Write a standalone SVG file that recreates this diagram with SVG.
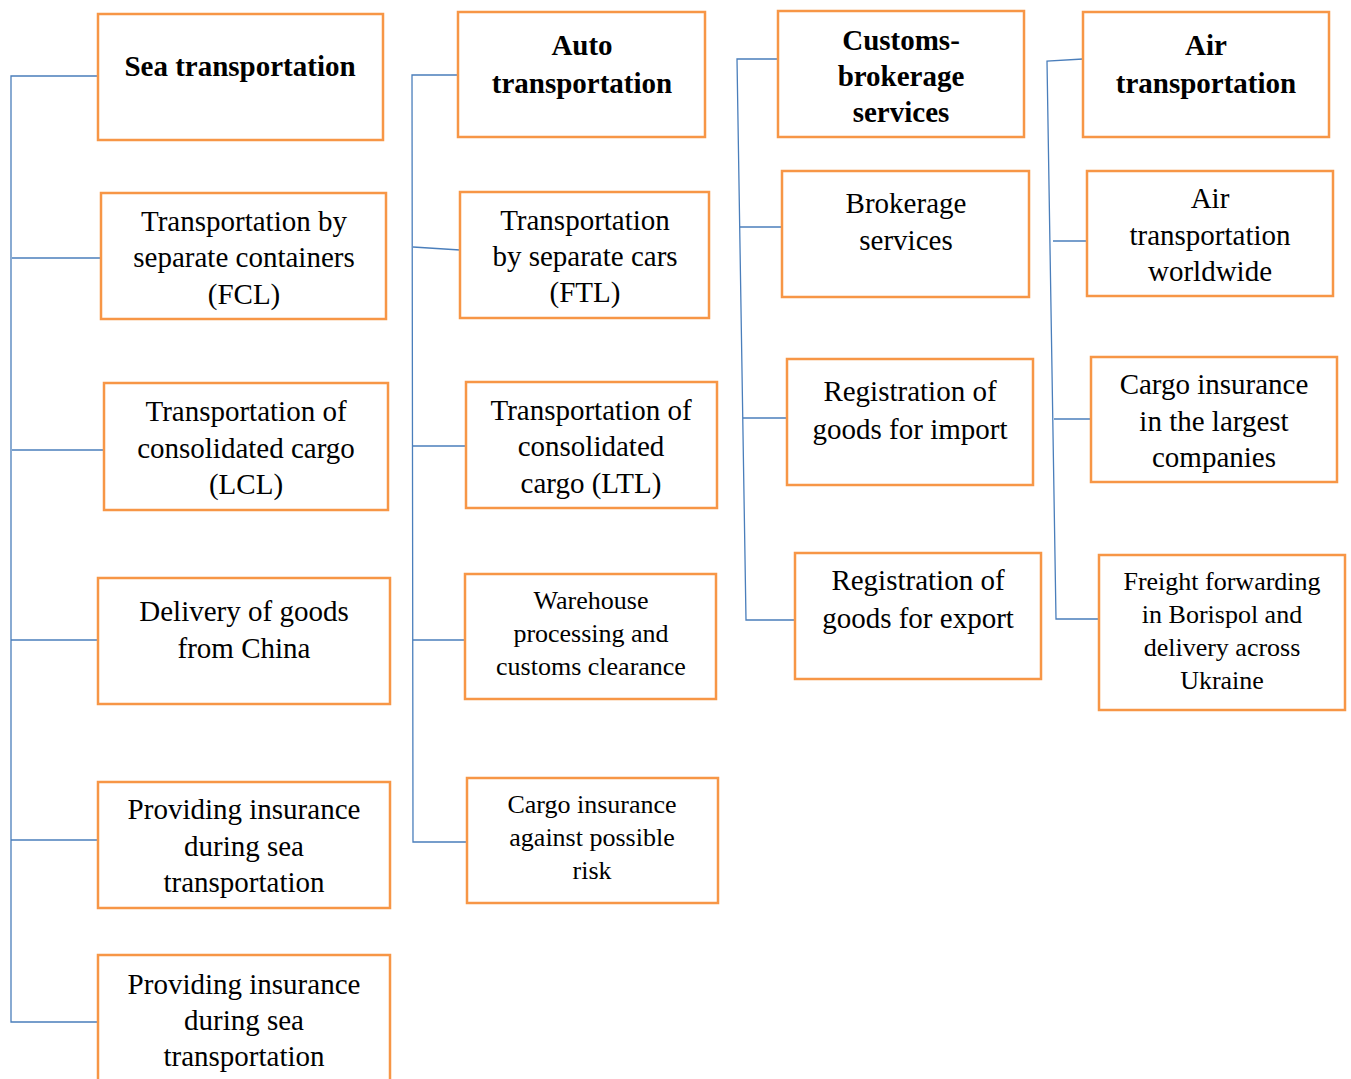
<svg xmlns="http://www.w3.org/2000/svg" width="1351" height="1079" viewBox="0 0 1351 1079">
<style>
  .box { fill: #fff; stroke: #F79646; stroke-width: 2.5; }
  .t { font-family: "Liberation Serif", "Times New Roman", serif; font-size: 29px; fill: #000; text-anchor: middle; }
  .s { font-size: 26px; }
  .b { font-weight: bold; }
  .ln { stroke: #4A7EBB; stroke-width: 1.3; fill: none; }
</style>
<rect width="1351" height="1079" fill="#fff"/>

<g id="connectors">
  <!-- sea column -->
  <polyline class="ln" points="100,76 11,76 11,1022 98,1022"/>
  <line class="ln" x1="12" y1="258" x2="101" y2="258"/>
  <line class="ln" x1="12" y1="450" x2="104" y2="450"/>
  <line class="ln" x1="11" y1="640" x2="98" y2="640"/>
  <line class="ln" x1="11" y1="840" x2="98" y2="840"/>
  <!-- auto column -->
  <polyline class="ln" points="460,75 412,75 413,842 467,842"/>
  <line class="ln" x1="413" y1="247" x2="460" y2="250"/>
  <line class="ln" x1="413" y1="446" x2="466" y2="446"/>
  <line class="ln" x1="413" y1="640" x2="465" y2="640"/>
  <!-- customs column -->
  <polyline class="ln" points="782,59 737,59 746,620 795,620"/>
  <line class="ln" x1="740" y1="227" x2="782" y2="227"/>
  <line class="ln" x1="743" y1="418" x2="787" y2="418"/>
  <!-- air column -->
  <polyline class="ln" points="1083,59 1047,61 1056,619 1099,619"/>
  <line class="ln" x1="1053" y1="241" x2="1087" y2="241"/>
  <line class="ln" x1="1054" y1="419" x2="1091" y2="419"/>
</g>

<!-- sea transportation column -->
<g id="sea">
  <rect class="box" x="98" y="14" width="285" height="126"/>
  <text class="t b" x="240" y="76">Sea transportation</text>
</g>
<g id="sea-fcl">
  <rect class="box" x="101" y="193" width="285" height="126"/>
  <text class="t" x="244" y="231">Transportation by</text>
  <text class="t" x="244" y="267">separate containers</text>
  <text class="t" x="244" y="304">(FCL)</text>
</g>
<g id="sea-lcl">
  <rect class="box" x="104" y="383" width="284" height="127"/>
  <text class="t" x="246" y="421">Transportation of</text>
  <text class="t" x="246" y="458">consolidated cargo</text>
  <text class="t" x="246" y="494">(LCL)</text>
</g>
<g id="sea-china">
  <rect class="box" x="98" y="578" width="292" height="126"/>
  <text class="t" x="244" y="621">Delivery of goods</text>
  <text class="t" x="244" y="658">from China</text>
</g>
<g id="sea-insurance-1">
  <rect class="box" x="98" y="782" width="292" height="126"/>
  <text class="t" x="244" y="819">Providing insurance</text>
  <text class="t" x="244" y="856">during sea</text>
  <text class="t" x="244" y="892">transportation</text>
</g>
<g id="sea-insurance-2">
  <rect class="box" x="98" y="955" width="292" height="132"/>
  <text class="t" x="244" y="994">Providing insurance</text>
  <text class="t" x="244" y="1030">during sea</text>
  <text class="t" x="244" y="1066">transportation</text>
</g>

<!-- auto transportation column -->
<g id="auto">
  <rect class="box" x="458" y="12" width="247" height="125"/>
  <text class="t b" x="582" y="55">Auto</text>
  <text class="t b" x="582" y="93">transportation</text>
</g>
<g id="auto-ftl">
  <rect class="box" x="460" y="192" width="249" height="126"/>
  <text class="t" x="585" y="230">Transportation</text>
  <text class="t" x="585" y="266">by separate cars</text>
  <text class="t" x="585" y="302">(FTL)</text>
</g>
<g id="auto-ltl">
  <rect class="box" x="466" y="382" width="251" height="126"/>
  <text class="t" x="591" y="420">Transportation of</text>
  <text class="t" x="591" y="456">consolidated</text>
  <text class="t" x="591" y="493">cargo (LTL)</text>
</g>
<g id="auto-warehouse">
  <rect class="box" x="465" y="574" width="251" height="125"/>
  <text class="t s" x="591" y="609">Warehouse</text>
  <text class="t s" x="591" y="642">processing and</text>
  <text class="t s" x="591" y="675">customs clearance</text>
</g>
<g id="auto-insurance">
  <rect class="box" x="467" y="778" width="251" height="125"/>
  <text class="t s" x="592" y="813">Cargo insurance</text>
  <text class="t s" x="592" y="846">against possible</text>
  <text class="t s" x="592" y="879">risk</text>
</g>

<!-- customs-brokerage column -->
<g id="customs">
  <rect class="box" x="778" y="11" width="246" height="126"/>
  <text class="t b" x="901" y="50">Customs-</text>
  <text class="t b" x="901" y="86">brokerage</text>
  <text class="t b" x="901" y="122">services</text>
</g>
<g id="customs-brokerage">
  <rect class="box" x="782" y="171" width="247" height="126"/>
  <text class="t" x="906" y="213">Brokerage</text>
  <text class="t" x="906" y="250">services</text>
</g>
<g id="customs-import">
  <rect class="box" x="787" y="359" width="246" height="126"/>
  <text class="t" x="910" y="401">Registration of</text>
  <text class="t" x="910" y="439">goods for import</text>
</g>
<g id="customs-export">
  <rect class="box" x="795" y="553" width="246" height="126"/>
  <text class="t" x="918" y="590">Registration of</text>
  <text class="t" x="918" y="628">goods for export</text>
</g>

<!-- air transportation column -->
<g id="air">
  <rect class="box" x="1083" y="12" width="246" height="125"/>
  <text class="t b" x="1206" y="55">Air</text>
  <text class="t b" x="1206" y="93">transportation</text>
</g>
<g id="air-worldwide">
  <rect class="box" x="1087" y="171" width="246" height="125"/>
  <text class="t" x="1210" y="208">Air</text>
  <text class="t" x="1210" y="245">transportation</text>
  <text class="t" x="1210" y="281">worldwide</text>
</g>
<g id="air-insurance">
  <rect class="box" x="1091" y="357" width="246" height="125"/>
  <text class="t" x="1214" y="394">Cargo insurance</text>
  <text class="t" x="1214" y="431">in the largest</text>
  <text class="t" x="1214" y="467">companies</text>
</g>
<g id="air-borispol">
  <rect class="box" x="1099" y="555" width="246" height="155"/>
  <text class="t s" x="1222" y="590">Freight forwarding</text>
  <text class="t s" x="1222" y="623">in Borispol and</text>
  <text class="t s" x="1222" y="656">delivery across</text>
  <text class="t s" x="1222" y="689">Ukraine</text>
</g>
</svg>
